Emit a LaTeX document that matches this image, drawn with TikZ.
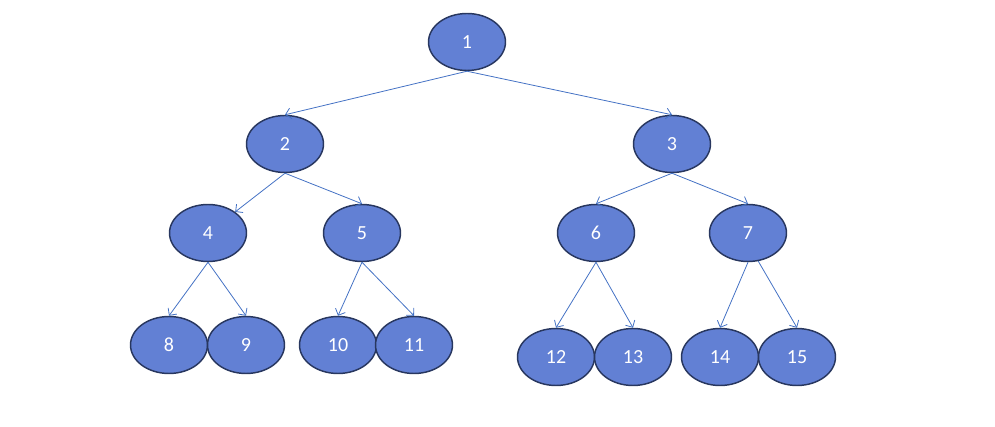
\documentclass[tikz,border=0pt]{standalone}
\usepackage{fontspec}
\setmainfont{Carlito}
\usepackage{xcolor}
\usetikzlibrary{shapes.geometric, arrows.meta}
\definecolor{heapfill}{RGB}{98, 128, 212}
\definecolor{heapline}{RGB}{40, 55, 95}
\definecolor{heapblue}{RGB}{68, 114, 196}

\begin{document}
\begin{tikzpicture}[x=0.75pt, y=-0.75pt,
    heapnode/.style={ellipse, fill=heapfill, draw=heapline, line width=1.1pt,
        minimum width=57.75pt, minimum height=42.75pt, inner sep=0pt,
        text=white, font=\fontsize{15}{17}\selectfont},
    treeedge/.style={-{Straight Barb[length=4pt, width=8pt]}, draw=heapblue, line width=0.6pt}]
    \useasboundingbox (0,0) rectangle (995,427);

    % Level 0 and 1
    \node[heapnode] (n1) at (467,42) {1};
    \node[heapnode] (n2) at (285,144) {2};
    \node[heapnode] (n3) at (672,144) {3};

    % Level 2
    \node[heapnode] (n4) at (208,233) {4};
    \node[heapnode] (n5) at (362,233) {5};
    \node[heapnode] (n6) at (596,233) {6};
    \node[heapnode] (n7) at (748,233) {7};

    % Leaves
    \node[heapnode] (n8) at (169,345) {8};
    \node[heapnode] (n9) at (246,345) {9};
    \node[heapnode] (n10) at (338,345) {10};
    \node[heapnode] (n11) at (414,345) {11};
    \node[heapnode] (n12) at (556,357) {12};
    \node[heapnode] (n13) at (633,357) {13};
    \node[heapnode] (n14) at (720,357) {14};
    \node[heapnode] (n15) at (797,357) {15};

    % Edges
    \draw[treeedge] (n1.south) -- (n2.north);
    \draw[treeedge] (n1.south) -- (n3.north);
    \draw[treeedge] (n2.south) -- (n4);
    \draw[treeedge] (n2.south) -- (n5.north);
    \draw[treeedge] (n3.south) -- (n6.north);
    \draw[treeedge] (n3.south) -- (n7.north);
    \draw[treeedge] (n4.south) -- (n8.north);
    \draw[treeedge] (n4.south) -- (n9.north);
    \draw[treeedge] (n5.south) -- (n10.north);
    \draw[treeedge] (n5.south) -- (n11.north);
    \draw[treeedge] (n6.south) -- (n12.north);
    \draw[treeedge] (n6.south) -- (n13.north);
    \draw[treeedge] (n7.south) -- (n14.north);
    \draw[treeedge] (n7.-70) -- (n15.north);
\end{tikzpicture}
\end{document}
